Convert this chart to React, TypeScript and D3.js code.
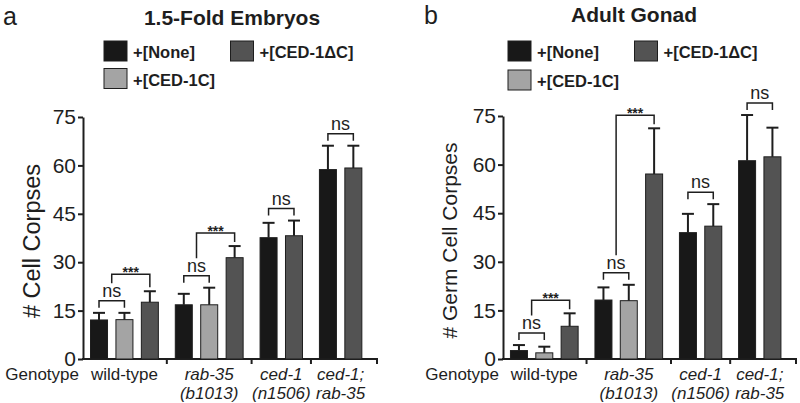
import React, { useEffect, useRef } from "react";
import * as d3 from "d3";

// transgene series, in the order bars appear inside a group
const transgenes = ["+[None]", "+[CED-1C]", "+[CED-1ΔC]"];
const transgeneColors = ["#181818", "#a4a4a4", "#535353"];
// legend slot (row, col) for each transgene
const legendSlots = [[0, 0], [1, 0], [0, 1]];

const genotypeLines = [["wild-type"], ["rab-35", "(b1013)"], ["ced-1", "(n1506)"], ["ced-1;", "rab-35"]];
const genotypeItalic = [false, true, true, true];
// which transgenes are shown for each genotype
const groupTransgenes = [[0, 1, 2], [0, 1, 2], [0, 2], [0, 2]];
const yTicks = [0, 15, 30, 45, 60, 75];

// panel a: 1.5-fold embryos
const embryoMeans = [[12.1, 12.2, 17.6], [16.8, 16.8, 31.4], [37.6, 38.2], [58.7, 59.2]];
const embryoErrors = [[2.2, 2.1, 3.4], [3.4, 5.3, 3.6], [4.6, 4.7], [7.4, 6.9]];
const embryoTests = [["ns", "***"], ["ns", "***"], ["ns"], ["ns"]];

// panel b: adult gonad
const gonadMeans = [[2.6, 1.9, 10.1], [18.2, 18.0, 57.1], [39.0, 41.0], [61.2, 62.4]];
const gonadErrors = [[1.7, 1.9, 4.0], [3.9, 4.9, 14.1], [5.8, 6.8], [14.1, 9.0]];
const gonadTests = [["ns", "***"], ["ns", "***"], ["ns"], ["ns"]];

const FONT = "'Liberation Sans', Arial, Helvetica, sans-serif";
const INK = "#1e1e1e";
const Y0 = 359;
const GAP_U = 0.335; // extra space between genotype groups, in bar slots
const BAR_W = 17;

type Panel = {
  letter: string;
  title: string;
  yLabel: string;
  means: number[][];
  errors: number[][];
  tests: string[][];
  left: number;
  right: number;
  yTop: number;
  letterX: number;
  letterY: number;
  titleX: number;
  titleY: number;
  legendX: number;
  legendRowGap: number;
  yLabelX: number;
  yLabelSize: number;
};

const panels: Panel[] = [
  {
    letter: "a", title: "1.5-Fold Embryos", yLabel: "# Cell Corpses",
    means: embryoMeans, errors: embryoErrors, tests: embryoTests,
    left: 83, right: 378, yTop: 117, letterX: 3, letterY: 25, titleX: 232, titleY: 25,
    legendX: 104, legendRowGap: 27.5, yLabelX: 40, yLabelSize: 23.5,
  },
  {
    letter: "b", title: "Adult Gonad", yLabel: "# Germ Cell Corpses",
    means: gonadMeans, errors: gonadErrors, tests: gonadTests,
    left: 503, right: 797, yTop: 116, letterX: 424, letterY: 24, titleX: 634, titleY: 22,
    legendX: 508, legendRowGap: 29, yLabelX: 457, yLabelSize: 21,
  },
];

function drawPanel(root: d3.Selection<SVGGElement, unknown, null, undefined>, p: Panel) {
  const g = root.append("g").attr("font-family", FONT);

  const y = d3.scaleLinear().domain([0, 75]).range([Y0, p.yTop]);

  // bar slots: each bar one unit, plus a gap between genotypes
  const bars: { gi: number; k: number; t: number; u: number; mean: number; err: number }[] = [];
  let n = 0;
  groupTransgenes.forEach((ts, gi) => {
    ts.forEach((t, k) => {
      bars.push({ gi, k, t, u: n + gi * GAP_U, mean: p.means[gi][k], err: p.errors[gi][k] });
      n++;
    });
  });
  const lastU = d3.max(bars, (b) => b.u) as number;
  const x = d3.scaleLinear().domain([-0.63, lastU + 0.97]).range([p.left, p.right]);

  // panel letter & title
  g.append("text").attr("x", p.letterX).attr("y", p.letterY)
    .attr("font-size", 25).attr("fill", INK).text(p.letter);
  g.append("text").attr("x", p.titleX).attr("y", p.titleY)
    .attr("text-anchor", "middle").attr("font-size", 21).attr("font-weight", "bold")
    .attr("fill", INK).text(p.title);

  // legend
  transgenes.forEach((name, t) => {
    const [row, col] = legendSlots[t];
    const bx = p.legendX + col * 126.5;
    const by = 41 + row * p.legendRowGap;
    g.append("rect").attr("x", bx).attr("y", by).attr("width", 23).attr("height", 20)
      .attr("fill", transgeneColors[t]).attr("stroke", INK).attr("stroke-width", 1);
    g.append("text").attr("x", bx + 29).attr("y", by + 17)
      .attr("font-size", 16.5).attr("font-weight", "bold").attr("fill", INK).text(name);
  });

  // y axis
  const yAxis = g.append("g").attr("transform", `translate(${p.left},0)`)
    .call(d3.axisLeft(y).tickValues(yTicks).tickSize(5).tickSizeOuter(0).tickPadding(2).tickFormat(d3.format("d")));
  yAxis.attr("font-family", FONT).attr("font-size", 21);
  yAxis.selectAll("path,line").attr("stroke", INK).attr("stroke-width", 2);
  yAxis.selectAll("text").attr("fill", INK);

  g.append("text")
    .attr("transform", `translate(${p.yLabelX},${(Y0 + p.yTop) / 2 + 3}) rotate(-90)`)
    .attr("text-anchor", "middle").attr("font-size", p.yLabelSize).attr("fill", INK).text(p.yLabel);

  // x axis line with ticks at genotype boundaries
  g.append("line").attr("x1", p.left - 1).attr("x2", p.right).attr("y1", Y0).attr("y2", Y0)
    .attr("stroke", INK).attr("stroke-width", 2);
  const groupCenters = groupTransgenes.map((_, gi) => d3.mean(bars.filter((b) => b.gi === gi), (b) => x(b.u)) as number);
  const bounds: number[] = [];
  for (let gi = 0; gi < groupTransgenes.length - 1; gi++) {
    const lastOf = bars.filter((b) => b.gi === gi).slice(-1)[0];
    const firstNext = bars.filter((b) => b.gi === gi + 1)[0];
    bounds.push((x(lastOf.u) + x(firstNext.u)) / 2);
  }
  bounds.push(p.right - 1);
  g.selectAll(null).data(bounds).enter().append("line")
    .attr("x1", (d) => d).attr("x2", (d) => d).attr("y1", Y0).attr("y2", Y0 + 5)
    .attr("stroke", INK).attr("stroke-width", 2);

  // bars
  g.selectAll(null).data(bars).enter().append("rect")
    .attr("x", (b) => x(b.u) - BAR_W / 2)
    .attr("y", (b) => y(b.mean))
    .attr("width", BAR_W)
    .attr("height", (b) => Y0 - y(b.mean))
    .attr("fill", (b) => transgeneColors[b.t])
    .attr("stroke", INK).attr("stroke-width", 1);

  // upper error bars
  const eb = g.selectAll(null).data(bars).enter().append("g").attr("stroke", INK).attr("stroke-width", 2);
  eb.append("line").attr("x1", (b) => x(b.u)).attr("x2", (b) => x(b.u))
    .attr("y1", (b) => y(b.mean)).attr("y2", (b) => y(b.mean + b.err));
  eb.append("line").attr("x1", (b) => x(b.u) - 6).attr("x2", (b) => x(b.u) + 6)
    .attr("y1", (b) => y(b.mean + b.err)).attr("y2", (b) => y(b.mean + b.err));

  // significance brackets
  p.tests.forEach((labels, gi) => {
    const gb = bars.filter((b) => b.gi === gi);
    const top = (b: typeof gb[0]) => y(b.mean + b.err);
    const x0 = x(gb[0].u), x1 = x(gb[1].u);
    const hy = Math.min(top(gb[0]), top(gb[1])) - 12;
    g.append("path").attr("d", `M${x0},${hy + 7}V${hy}H${x1}V${hy + 7}`)
      .attr("fill", "none").attr("stroke", INK).attr("stroke-width", 1.5);
    g.append("text").attr("x", (x0 + x1) / 2).attr("y", hy - 4)
      .attr("text-anchor", "middle").attr("font-size", 18).attr("fill", INK).text(labels[0]);
    if (labels[1] && gb[2]) {
      const nsTop = hy - 13.5;
      const x2 = x(gb[2].u);
      const e3 = top(gb[2]);
      const hy2 = Math.min(nsTop, e3) - 13;
      const xm = (x0 + x1) / 2;
      g.append("path").attr("d", `M${xm},${nsTop - 4}V${hy2}H${x2}V${e3 - 4}`)
        .attr("fill", "none").attr("stroke", INK).attr("stroke-width", 1.5);
      g.append("text").attr("x", (xm + x2) / 2).attr("y", hy2 + 3)
        .attr("text-anchor", "middle").attr("font-size", 14).attr("font-weight", "bold")
        .attr("fill", INK).text(labels[1]);
    }
  });

  // genotype labels
  g.append("text").attr("x", p.left - 4).attr("y", 380).attr("text-anchor", "end")
    .attr("font-size", 17).attr("fill", INK).text("Genotype");
  genotypeLines.forEach((lines, gi) => {
    lines.forEach((line, li) => {
      g.append("text").attr("x", groupCenters[gi]).attr("y", 380 + li * 19)
        .attr("text-anchor", "middle").attr("font-size", 17)
        .attr("font-style", genotypeItalic[gi] ? "italic" : "normal")
        .attr("fill", INK).text(line);
    });
  });
}

export default function App() {
  const ref = useRef<SVGSVGElement>(null);

  useEffect(() => {
    const svg = d3.select(ref.current);
    svg.selectAll("*").remove();
    const root = svg.append("g");
    panels.forEach((p) => drawPanel(root, p));
  }, []);

  return (
    <svg
      ref={ref}
      width={800}
      height={403}
      style={{ position: "absolute", left: 0, top: 0, background: "#fff" }}
    />
  );
}
